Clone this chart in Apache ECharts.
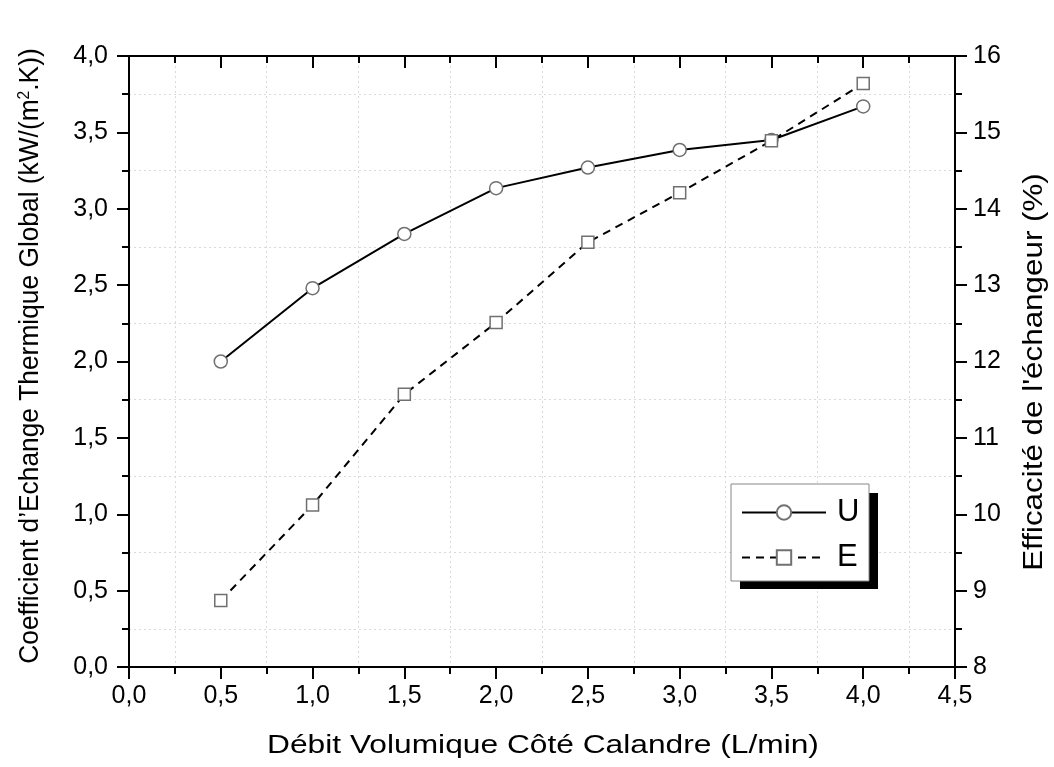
<!DOCTYPE html>
<html>
<head>
<meta charset="utf-8">
<script src="https://cdn.jsdelivr.net/npm/echarts@6/dist/echarts.min.js"></script>
<style>
  html, body { margin: 0; padding: 0; background: #fff; }
  #chart { width: 1054px; height: 767px; }
</style>
</head>
<body>
<div id="chart"></div>
<script>
// Shell-side volumetric flow rate (L/min)
const flowRates = [0.5, 1.0, 1.5, 2.0, 2.5, 3.0, 3.5, 4.0];
// Overall heat transfer coefficient U (kW/(m².K))
const uValues = [2.00, 2.48, 2.835, 3.135, 3.27, 3.385, 3.45, 3.67];
// Exchanger effectiveness E (%)
const eValues = [8.87, 10.12, 11.57, 12.51, 13.56, 14.21, 14.89, 15.64];

const xTitle = 'Débit Volumique Côté Calandre (L/min)';
const yLeftTitle = 'Coefficient d’Echange Thermique Global (kW/(m{sup|2}.K))';
const yRightTitle = "Efficacité de l'échangeur (%)";

const FONT = '"Liberation Sans", Arial, sans-serif';
const comma1 = v => v.toFixed(1).replace('.', ',');

const chart = echarts.init(document.getElementById('chart'), null, { renderer: 'canvas' });

const axisLine = { show: true, onZero: false, lineStyle: { color: '#000', width: 2 } };
const majorTick = { show: true, length: 12, lineStyle: { color: '#000', width: 2 } };
const minorTick = { show: true, splitNumber: 2, length: 7, lineStyle: { color: '#000', width: 2 } };
const gridDots = { show: true, lineStyle: { color: '#dadada', width: 1, type: [2, 3] } };
const tickFont = { fontFamily: FONT, fontSize: 25, color: '#000' };

// axis titles, drawn as text elements so their width can be set independently
function titleText(text, x, y, size, rot, sx) {
  return {
    type: 'text', x: x, y: y, rotation: rot, scaleX: sx, z: 30, silent: true,
    style: {
      text: text, x: 0, y: 0, fontFamily: FONT, fontSize: size, fill: '#000',
      align: 'center', verticalAlign: 'middle', textAlign: 'center', textVerticalAlign: 'middle',
      rich: { sup: { fontFamily: FONT, fontSize: Math.round(size * 0.6), fill: '#000', padding: [0, 0, 12, 0] } }
    }
  };
}

chart.setOption({
  animation: false,
  backgroundColor: '#fff',
  grid: { left: 129, right: 99, top: 56, bottom: 100, containLabel: false },
  xAxis: [
    {
      type: 'value', min: 0, max: 4.5, interval: 0.5, position: 'bottom',
      axisLine: axisLine, axisTick: majorTick, minorTick: minorTick,
      axisLabel: Object.assign({ margin: 17, formatter: comma1 }, tickFont),
      splitLine: { show: false }, minorSplitLine: gridDots
    },
    {
      type: 'value', min: 0, max: 4.5, interval: 0.5, position: 'top',
      axisLine: axisLine,
      axisTick: Object.assign({}, majorTick, { inside: true }),
      minorTick: minorTick,
      axisLabel: { show: false }, splitLine: { show: false }
    }
  ],
  yAxis: [
    {
      type: 'value', min: 0, max: 4, interval: 0.5, position: 'left',
      axisLine: axisLine, axisTick: majorTick, minorTick: minorTick,
      axisLabel: Object.assign({ margin: 21, formatter: comma1 }, tickFont),
      splitLine: { show: false }, minorSplitLine: gridDots
    },
    {
      type: 'value', min: 8, max: 16, interval: 1, position: 'right',
      axisLine: axisLine, axisTick: majorTick, minorTick: minorTick,
      axisLabel: Object.assign({ margin: 18 }, tickFont),
      splitLine: { show: false }
    }
  ],
  legend: {
    orient: 'vertical', left: 736, top: 492, z: 20,
    itemWidth: 84, itemHeight: 18, itemGap: 14,
    textStyle: { fontFamily: FONT, fontSize: 31, color: '#000', padding: [0, 0, 0, 6] },
    data: ['U', 'E']
  },
  graphic: [
    { type: 'rect', z: 10, silent: true, shape: { x: 740, y: 493, width: 138, height: 96 }, style: { fill: '#000' } },
    { type: 'rect', z: 11, silent: true, shape: { x: 731, y: 484, width: 138, height: 97 }, style: { fill: '#fff', stroke: '#888', lineWidth: 1 } },
    titleText(xTitle, 543, 746, 26, 0, 1.22),
    titleText(yLeftTitle, 31, 356, 27, Math.PI / 2, 0.975),
    titleText(yRightTitle, 1034, 372, 28, Math.PI / 2, 1.12)
  ],
  series: [
    {
      name: 'U', type: 'line', xAxisIndex: 0, yAxisIndex: 0,
      data: flowRates.map((x, i) => [x, uValues[i]]),
      symbol: 'circle', symbolSize: 13,
      lineStyle: { color: '#000', width: 2 },
      itemStyle: { color: '#fff', borderColor: '#707070', borderWidth: 1.5 },
      z: 3
    },
    {
      name: 'E', type: 'line', xAxisIndex: 0, yAxisIndex: 1,
      data: flowRates.map((x, i) => [x, eValues[i]]),
      symbol: 'rect', symbolSize: 12,
      lineStyle: { color: '#000', width: 2, type: [8, 6] },
      itemStyle: { color: '#fff', borderColor: '#707070', borderWidth: 1.5 },
      z: 3
    }
  ]
});
</script>
</body>
</html>
